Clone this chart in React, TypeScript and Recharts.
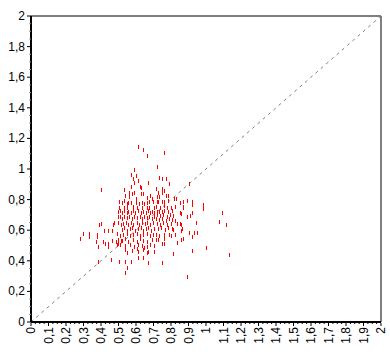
import React from "react";
import {
  ScatterChart,
  Scatter,
  XAxis,
  YAxis,
  ReferenceLine,
} from "recharts";

// ─── Data ───────────────────────────────────────────────────────────────────

const xValues = [
  0.613, 0.642, 0.665, 0.762, 0.722, 0.59, 0.571, 0.602, 0.585, 0.589,
  0.613, 0.67, 0.731, 0.75, 0.771, 0.789, 0.905, 0.573, 0.625, 0.63,
  0.4, 0.533, 0.713, 0.75, 0.762, 0.562, 0.575, 0.59, 0.627, 0.642,
  0.724, 0.747, 0.537, 0.562, 0.663, 0.68, 0.69, 0.602, 0.718, 0.731,
  0.771, 0.785, 0.505, 0.518, 0.533, 0.547, 0.556, 0.573, 0.602, 0.617,
  0.633, 0.647, 0.661, 0.674, 0.695, 0.718, 0.727, 0.747, 0.762, 0.785,
  0.817, 0.827, 0.851, 0.87, 0.893, 0.922, 0.922, 0.867, 0.985, 0.985,
  0.505, 0.533, 0.547, 0.585, 0.604, 0.633, 0.661, 0.674, 0.703, 0.712,
  0.737, 0.762, 0.775, 0.798, 0.823, 0.87, 1.093, 0.855, 0.893, 0.909,
  0.922, 0.945, 1.076, 1.116, 0.855, 0.865, 0.855, 0.905, 0.933, 0.95,
  0.922, 0.867, 0.855, 1.002, 0.922, 1.133, 0.893, 0.833, 0.804, 0.823,
  0.798, 0.789, 0.762, 0.833, 0.747, 0.762, 0.813, 0.747, 0.389, 0.4,
  0.299, 0.333, 0.333, 0.28, 0.375, 0.375, 0.419, 0.442, 0.461, 0.474,
  0.467, 0.41, 0.371, 0.461, 0.381, 0.423, 0.442, 0.442, 0.486, 0.495,
  0.513, 0.49, 0.499, 0.547, 0.537, 0.571, 0.503, 0.547, 0.537, 0.385,
  0.455, 0.613, 0.647, 0.661, 0.613, 0.642, 0.667, 0.703,
  // dense core
  0.495, 0.509, 0.522, 0.533, 0.547, 0.556, 0.571, 0.585, 0.594, 0.613,
  0.629, 0.642, 0.657, 0.67, 0.68, 0.693, 0.705,
  0.495, 0.509, 0.518, 0.533, 0.547, 0.562, 0.575, 0.59, 0.604, 0.623,
  0.632, 0.648, 0.661, 0.674, 0.69, 0.703,
  0.499, 0.512, 0.528, 0.541, 0.556, 0.57, 0.585, 0.604, 0.619, 0.632,
  0.651, 0.665, 0.68, 0.695,
  0.518, 0.533, 0.547, 0.566, 0.579, 0.594, 0.613, 0.629, 0.642, 0.655,
  0.67, 0.686, 0.703,
  0.49, 0.509, 0.528, 0.547, 0.566, 0.585, 0.604, 0.623, 0.642, 0.661,
  0.68, 0.699,
  0.495, 0.518, 0.537, 0.556, 0.585, 0.604, 0.623, 0.642, 0.661, 0.69,
  0.509, 0.537, 0.566, 0.59, 0.613, 0.632, 0.661, 0.68, 0.705,
  0.537, 0.575, 0.604, 0.642, 0.67,
  // right part of the core
  0.718, 0.731, 0.747, 0.762, 0.785, 0.804,
  0.718, 0.737, 0.756, 0.775, 0.794, 0.813,
  0.714, 0.731, 0.75, 0.77, 0.789, 0.808, 0.823,
  0.718, 0.737, 0.756, 0.775, 0.8,
  0.724, 0.743, 0.766, 0.785, 0.813,
  0.712, 0.731, 0.762, 0.789, 0.712, 0.728, 0.762,
  0.851, 0.851,
];

const yValues = [
  1.146, 1.124, 1.087, 1.107, 1.015, 0.993, 0.961, 0.954, 0.933, 0.91,
  0.924, 0.907, 0.939, 0.933, 0.933, 0.902, 0.902, 0.88, 0.884, 0.874,
  0.863, 0.863, 0.867, 0.867, 0.858, 0.841, 0.837, 0.841, 0.837, 0.837,
  0.845, 0.845, 0.824, 0.815, 0.808, 0.824, 0.804, 0.802, 0.819, 0.819,
  0.824, 0.824, 0.786, 0.776, 0.791, 0.771, 0.78, 0.776, 0.78, 0.771,
  0.778, 0.769, 0.778, 0.786, 0.782, 0.786, 0.786, 0.786, 0.786, 0.791,
  0.802, 0.802, 0.776, 0.786, 0.791, 0.786, 0.765, 0.754, 0.765, 0.737,
  0.747, 0.743, 0.743, 0.75, 0.743, 0.743, 0.743, 0.747, 0.743, 0.754,
  0.747, 0.758, 0.743, 0.743, 0.75, 0.743, 0.714, 0.706, 0.688, 0.695,
  0.71, 0.649, 0.656, 0.634, 0.634, 0.608, 0.597, 0.584, 0.584, 0.584,
  0.558, 0.542, 0.536, 0.486, 0.466, 0.44, 0.296, 0.639, 0.608, 0.569,
  0.564, 0.569, 0.569, 0.518, 0.508, 0.508, 0.442, 0.388, 0.634, 0.639,
  0.575, 0.575, 0.558, 0.544, 0.569, 0.558, 0.597, 0.597, 0.597, 0.649,
  0.634, 0.525, 0.525, 0.531, 0.488, 0.51, 0.508, 0.488, 0.525, 0.531,
  0.531, 0.503, 0.508, 0.449, 0.392, 0.392, 0.394, 0.351, 0.318, 0.394,
  0.405, 0.459, 0.482, 0.449, 0.42, 0.416, 0.388, 0.459,
  // dense core
  0.721, 0.726, 0.715, 0.726, 0.71, 0.721, 0.715, 0.726, 0.715, 0.726,
  0.71, 0.721, 0.715, 0.726, 0.71, 0.721, 0.715,
  0.684, 0.688, 0.671, 0.684, 0.678, 0.688, 0.671, 0.684, 0.678, 0.688,
  0.671, 0.684, 0.678, 0.688, 0.671, 0.684,
  0.645, 0.634, 0.641, 0.649, 0.634, 0.645, 0.634, 0.649, 0.634, 0.645,
  0.641, 0.649, 0.634, 0.645,
  0.601, 0.612, 0.597, 0.606, 0.612, 0.597, 0.606, 0.612, 0.597, 0.606,
  0.612, 0.597, 0.606,
  0.575, 0.562, 0.569, 0.575, 0.562, 0.569, 0.575, 0.562, 0.569, 0.575,
  0.562, 0.569,
  0.536, 0.532, 0.54, 0.525, 0.536, 0.525, 0.54, 0.532, 0.525, 0.536,
  0.503, 0.497, 0.503, 0.492, 0.503, 0.497, 0.492, 0.503, 0.497,
  0.471, 0.466, 0.475, 0.471, 0.46,
  // right part of the core
  0.721, 0.721, 0.721, 0.726, 0.721, 0.726,
  0.699, 0.693, 0.699, 0.688, 0.699, 0.693,
  0.671, 0.667, 0.671, 0.662, 0.671, 0.667, 0.662,
  0.641, 0.634, 0.645, 0.634, 0.641,
  0.606, 0.612, 0.601, 0.612, 0.601,
  0.569, 0.562, 0.569, 0.569, 0.536, 0.536, 0.54,
  0.71, 0.639,
];

const xTickLabels = [
  "0", "0,1", "0,2", "0,3", "0,4", "0,5", "0,6", "0,7", "0,8", "0,9",
  "1", "1,1", "1,2", "1,3", "1,4", "1,5", "1,6", "1,7", "1,8", "1,9", "2",
];
const yTickLabels = ["0", "0,2", "0,4", "0,6", "0,8", "1", "1,2", "1,4", "1,6", "1,8", "2"];

// ─── Helpers ─────────────────────────────────────────────────────────────────

const points = xValues.map((x, i) => ({ x, y: yValues[i] }));

// minor ticks: every 0.025 on x, every 0.05 on y
const xTicks = Array.from({ length: 81 }, (_, i) => +(i * 0.025).toFixed(3));
const yTicks = Array.from({ length: 41 }, (_, i) => +(i * 0.05).toFixed(2));

const FONT = "'Liberation Sans', Arial, sans-serif";

function isMajor(v: number, step: number) {
  const k = v / step;
  return Math.abs(k - Math.round(k)) < 1e-6;
}

function XTick(props: any) {
  const { x, y, payload } = props;
  const v = payload.value as number;
  const major = isMajor(v, 0.1);
  const label = major ? xTickLabels[Math.round(v * 10)] : null;
  return (
    <g>
      <line x1={x} x2={x} y1={y + 1} y2={y + (major ? 4 : 2)} stroke="#000" />
      {label && (
        <text
          x={x + 4}
          y={y + 5}
          transform={`rotate(-90 ${x + 4} ${y + 5})`}
          textAnchor="end"
          fontSize={12}
          fontFamily={FONT}
          fill="#000"
        >
          {label}
        </text>
      )}
    </g>
  );
}

function YTick(props: any) {
  const { x, y, payload } = props;
  const v = payload.value as number;
  const major = isMajor(v, 0.2);
  const label = major ? yTickLabels[Math.round(v * 5)] : null;
  if (!major) {
    return <line x1={x - 2} x2={x} y1={y} y2={y} stroke="#9a9a9a" />;
  }
  return (
    <g>
      <line x1={x - 4} x2={x} y1={y} y2={y} stroke="#000" />
      <text
        x={x - 6}
        y={y + 4}
        textAnchor="end"
        fontSize={12}
        fontFamily={FONT}
        fill="#000"
      >
        {label}
      </text>
    </g>
  );
}

// tiny vertical dash, like the original plot marks
function Mark(props: any) {
  const { cx, cy } = props;
  if (cx == null || cy == null) return null;
  return (
    <rect x={Math.round(cx)} y={Math.round(cy) - 2} width={1} height={4} fill="#ff0000" />
  );
}

// ─── Main component ──────────────────────────────────────────────────────────

export default function App() {
  return (
    <div style={{ position: "absolute", left: 0, top: 0, width: 390, height: 352, background: "#fff" }}>
      <ScatterChart
        width={390}
        height={352}
        margin={{ top: 16, right: 9, bottom: 0, left: 0 }}
      >
        <XAxis
          dataKey="x"
          type="number"
          domain={[0, 2]}
          ticks={xTicks}
          interval={0}
          height={30}
          tickSize={0}
          tickMargin={0}
          tickLine={false}
          axisLine={{ stroke: "#000", strokeWidth: 2 }}
          tick={<XTick />}
        />
        <YAxis
          dataKey="y"
          type="number"
          domain={[0, 2]}
          ticks={yTicks}
          interval={0}
          width={31}
          tickSize={0}
          tickMargin={0}
          tickLine={false}
          axisLine={{ stroke: "#000", strokeWidth: 2 }}
          tick={<YTick />}
        />

        {/* frame: top and right edges */}
        <ReferenceLine y={2} stroke="#000" strokeWidth={1} />
        <ReferenceLine x={2} stroke="#000" strokeWidth={1} />

        {/* y = x diagonal */}
        <ReferenceLine
          segment={[{ x: 0, y: 0 }, { x: 2, y: 2 }]}
          stroke="#808080"
          strokeWidth={1}
          strokeDasharray="3 4"
        />

        <Scatter data={points} shape={<Mark />} isAnimationActive={false} />
      </ScatterChart>
    </div>
  );
}
